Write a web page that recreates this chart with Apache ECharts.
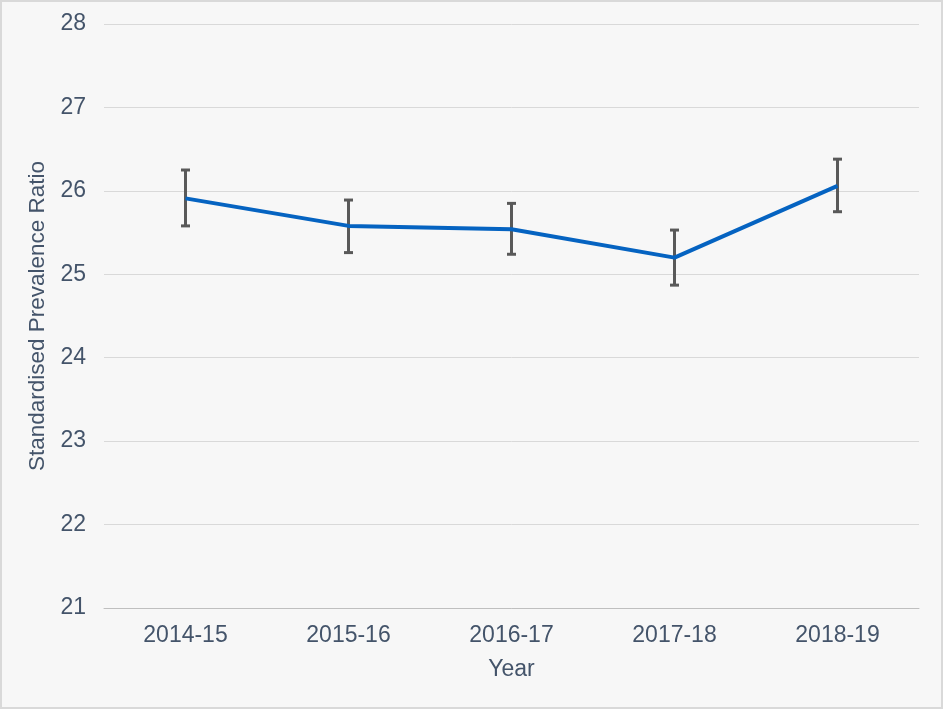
<!DOCTYPE html>
<html>
<head>
<meta charset="utf-8">
<script src="https://cdn.jsdelivr.net/npm/echarts@6/dist/echarts.min.js"></script>
<style>
  html, body { margin: 0; padding: 0; background: #f7f7f7; }
  #chart { width: 939px; height: 705px; border: 2px solid #d9d9d9; }
</style>
</head>
<body>
<div id="chart"></div>
<script>
var years = ['2014-15', '2015-16', '2016-17', '2017-18', '2018-19'];
var ratio = [25.91, 25.58, 25.54, 25.20, 26.06];
var lower = [25.58, 25.26, 25.24, 24.87, 25.75];
var upper = [26.25, 25.89, 25.85, 25.53, 26.38];

var textColor = '#44546a';
var chart = echarts.init(document.getElementById('chart'));

var option = {
    backgroundColor: '#f7f7f7',
    animation: false,
    grid: { left: 102, right: 22, top: 22, bottom: 99 },
    xAxis: {
        type: 'category',
        data: years,
        name: 'Year',
        nameLocation: 'middle',
        nameGap: 50,
        nameTextStyle: { color: textColor, fontSize: 23, fontFamily: 'Liberation Sans' },
        axisLine: { lineStyle: { color: '#bfbfbf', width: 1 } },
        axisTick: { show: false },
        axisLabel: { color: textColor, fontSize: 23, fontFamily: 'Liberation Sans', margin: 16 }
    },
    yAxis: {
        type: 'value',
        min: 21,
        max: 28,
        interval: 1,
        name: 'Standardised Prevalence Ratio',
        nameLocation: 'middle',
        nameGap: 52,
        nameTextStyle: { color: textColor, fontSize: 22.5, fontFamily: 'Liberation Sans' },
        axisLine: { show: false },
        axisTick: { show: false },
        axisLabel: { color: textColor, fontSize: 23, fontFamily: 'Liberation Sans', margin: 18 },
        splitLine: { lineStyle: { color: '#d9d9d9', width: 1 } }
    },
    series: [
        {
            type: 'line',
            data: ratio,
            symbol: 'none',
            lineStyle: { color: '#0563c1', width: 4 },
            z: 2
        },
        {
            // error bars (confidence interval)
            type: 'custom',
            data: years.map(function (y, i) { return [i, lower[i], upper[i]]; }),
            renderItem: function (params, api) {
                var lo = api.coord([api.value(0), api.value(1)]);
                var hi = api.coord([api.value(0), api.value(2)]);
                var w = 4.5;
                var st = { stroke: '#595959', lineWidth: 3 };
                return {
                    type: 'group',
                    children: [
                        { type: 'line', shape: { x1: hi[0], y1: hi[1], x2: lo[0], y2: lo[1] }, style: st },
                        { type: 'line', shape: { x1: hi[0] - w, y1: hi[1], x2: hi[0] + w, y2: hi[1] }, style: st },
                        { type: 'line', shape: { x1: lo[0] - w, y1: lo[1], x2: lo[0] + w, y2: lo[1] }, style: st }
                    ]
                };
            },
            z: 1
        }
    ]
};
chart.setOption(option);
</script>
</body>
</html>
